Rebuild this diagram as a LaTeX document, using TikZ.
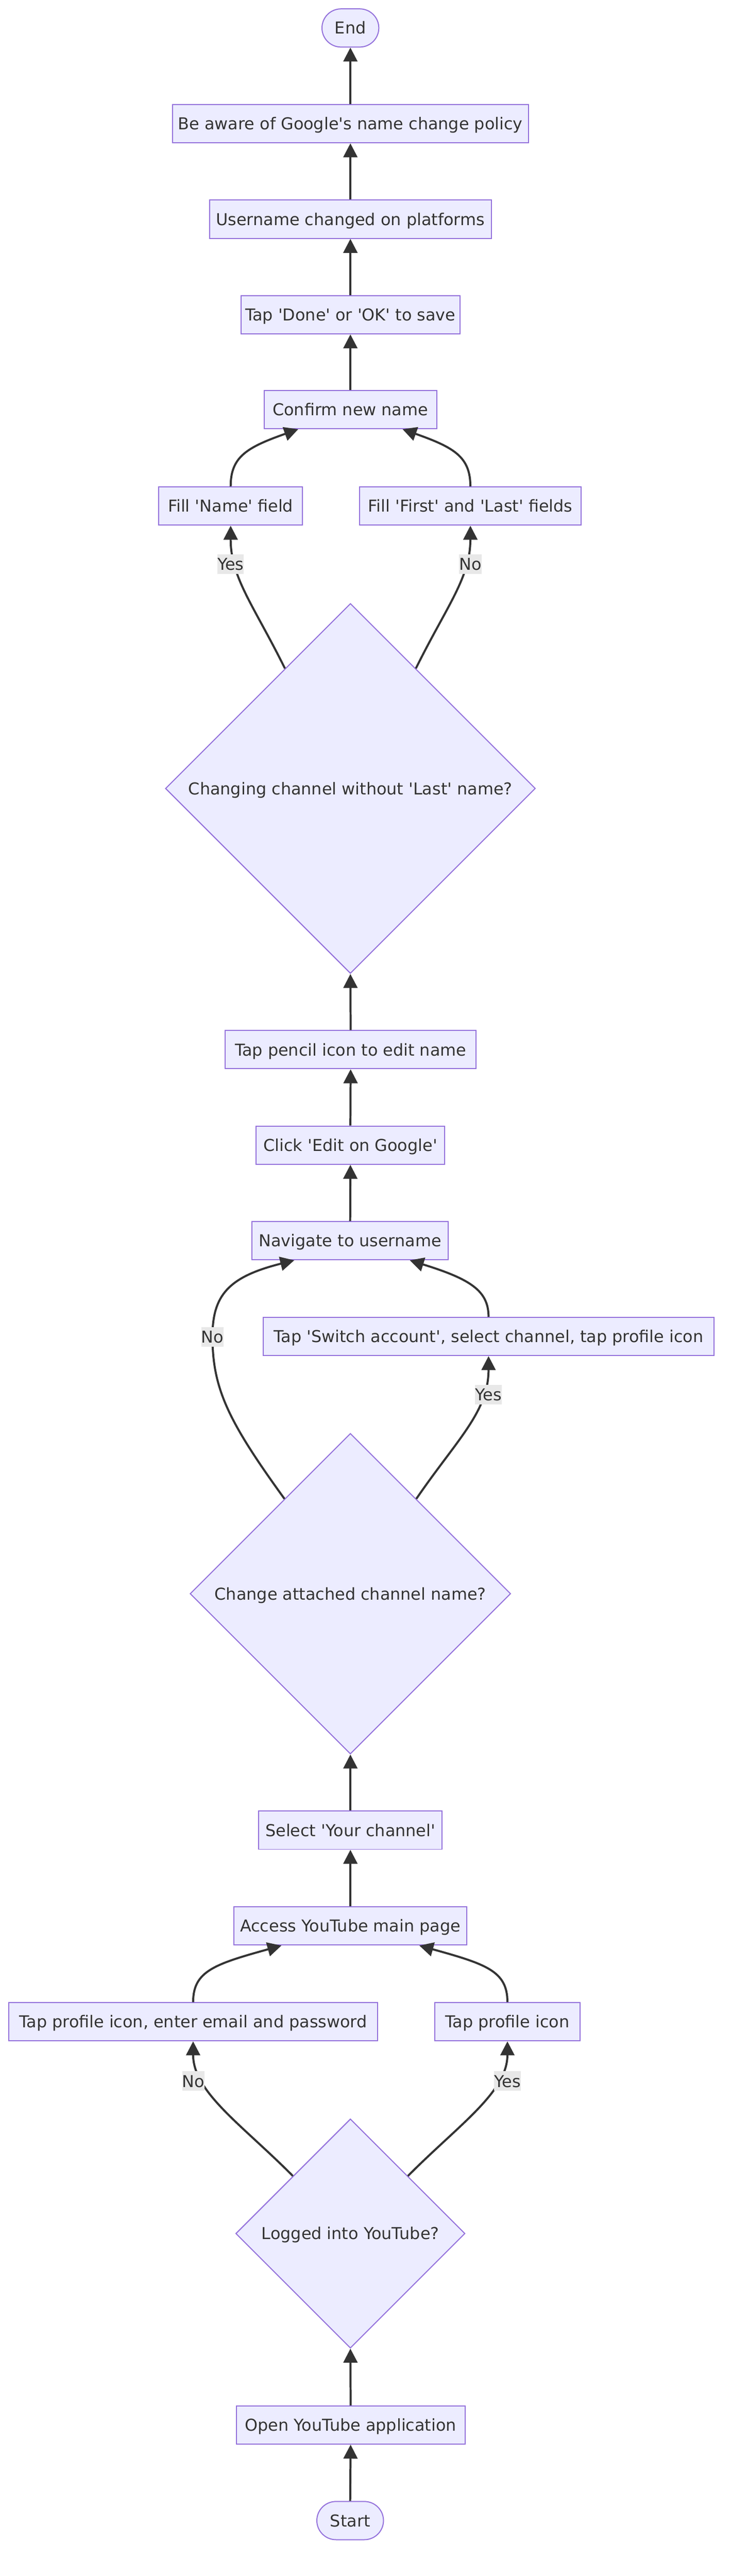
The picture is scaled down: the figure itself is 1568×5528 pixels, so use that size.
\documentclass[tikz,border=0pt]{standalone}
\usepackage{fontspec}
\setmainfont{DejaVu Sans}[Ligatures=TeXOff]
\usetikzlibrary{shapes.geometric,arrows.meta,calc}
\definecolor{boxfill}{HTML}{ECECFF}
\definecolor{boxborder}{HTML}{9370DB}
\definecolor{edgecol}{HTML}{333333}
\definecolor{textcol}{HTML}{333333}
\definecolor{lblfill}{HTML}{E8E8E8}
\tikzset{
  nbox/.style={draw=boxborder, fill=boxfill, line width=2.2pt, minimum height=82pt,
    inner sep=0pt, text height=25.7pt, text depth=0pt, text=textcol},
  termbox/.style={nbox, rounded corners=41pt},
  decbox/.style={diamond, aspect=1, draw=boxborder, fill=boxfill, line width=2.2pt,
    inner sep=0pt, text height=25.7pt, text depth=0pt, text=textcol},
  flow/.style={draw=edgecol, line width=4.4pt, -{Triangle[length=30pt,width=30pt]}},
  edgelabel/.style={fill=lblfill, inner xsep=0pt, inner ysep=0pt, minimum height=42pt,
    text height=25.7pt, text depth=0pt, text=textcol},
}
\begin{document}
\begin{tikzpicture}[x=1pt,y=-1pt,font=\fontsize{35.2}{42}\selectfont]
\useasboundingbox (0,0) rectangle (1568,5528);
\fill[white] (0,0) rectangle (1568,5528);

% nodes
\node[termbox, minimum width=122pt] (end) at (752,60) {End};
\node[nbox, minimum width=764pt] (aware) at (752,265.5) {Be aware of Google's name change policy};
\node[nbox, minimum width=605pt] (changed) at (752,470.5) {Username changed on platforms};
\node[nbox, minimum width=470pt] (done) at (752,675.5) {Tap 'Done' or 'OK' to save};
\node[nbox, minimum width=370pt] (confirm) at (752,879) {Confirm new name};
\node[nbox, minimum width=308pt] (fillname) at (495,1086) {Fill 'Name' field};
\node[nbox, minimum width=475pt] (fillfl) at (1009.5,1086) {Fill 'First' and 'Last' fields};
\node[decbox, minimum width=794pt, minimum height=794pt] (d1) at (752,1692) {Changing channel without 'Last' name?};
\node[nbox, minimum width=539pt] (pencil) at (752.5,2252.5) {Tap pencil icon to edit name};
\node[nbox, minimum width=404pt] (editg) at (752,2457.5) {Click 'Edit on Google'};
\node[nbox, minimum width=421pt] (navigate) at (751.5,2662.5) {Navigate to username};
\node[nbox, minimum width=967pt] (switch) at (1048.5,2868) {Tap 'Switch account', select channel, tap profile icon};
\node[decbox, minimum width=688pt, minimum height=688pt] (d2) at (752,3420) {Change attached channel name?};
\node[nbox, minimum width=394pt] (select) at (752,3927.5) {Select 'Your channel'};
\node[nbox, minimum width=500pt] (access) at (752,4133) {Access YouTube main page};
\node[nbox, minimum width=791pt] (loginbox) at (414.5,4338.5) {Tap profile icon, enter email and password};
\node[nbox, minimum width=312pt] (profile) at (1089,4338.5) {Tap profile icon};
\node[decbox, minimum width=492pt, minimum height=492pt] (d3) at (752,4793) {Logged into YouTube?};
\node[nbox, minimum width=491pt] (open) at (752.5,5204) {Open YouTube application};
\node[termbox, minimum width=143pt] (start) at (751.5,5409) {Start};

% edges
\draw[flow] (aware.north) -- (end.south);
\draw[flow] (changed.north) -- (aware.south);
\draw[flow] (done.north) -- (changed.south);
\draw[flow] (confirm.north) -- (done.south);
\draw[flow] (fillname.north) .. controls (495,980) and (530,960) .. ([xshift=-112pt]confirm.south);
\draw[flow] (fillfl.north) .. controls (1009.5,980) and (974,960) .. ([xshift=112pt]confirm.south);
\draw[flow] ($(d1.north)!0.353!(d1.west)$) .. controls (545,1300) and (495,1240) .. (fillname.south);
\draw[flow] ($(d1.north)!0.353!(d1.east)$) .. controls (959,1300) and (1009.5,1240) .. (fillfl.south);
\draw[flow] (pencil.north) -- (d1.south);
\draw[flow] (editg.north) -- (pencil.south);
\draw[flow] (navigate.north) -- (editg.south);
\draw[flow] ($(d2.north)!0.41!(d2.west)$) .. controls (490,3050) and (456,2980) .. (456,2868)
   .. controls (456,2780) and (490,2740) .. ([xshift=-120pt]navigate.south);
\draw[flow] ($(d2.north)!0.41!(d2.east)$) .. controls (980,3090) and (1048.5,3030) .. (switch.south);
\draw[flow] (switch.north) .. controls (1048.5,2770) and (1010,2745) .. ([xshift=128pt]navigate.south);
\draw[flow] (select.north) -- (d2.south);
\draw[flow] (access.north) -- (select.south);
\draw[flow] (loginbox.north) .. controls (414.5,4230) and (460,4215) .. ([xshift=-148pt]access.south);
\draw[flow] (profile.north) .. controls (1089,4230) and (1044,4215) .. ([xshift=148pt]access.south);
\draw[flow] ($(d3.north)!0.5!(d3.west)$) .. controls (520,4560) and (414.5,4490) .. (loginbox.south);
\draw[flow] ($(d3.north)!0.5!(d3.east)$) .. controls (984,4560) and (1089,4490) .. (profile.south);
\draw[flow] (open.north) -- (d3.south);
\draw[flow] (start.north) -- (open.south);

% edge labels
\node[edgelabel] (lyes1) at (495,1211) {Yes};
\node[edgelabel] (lno1) at (1009.5,1211) {No};
\node[edgelabel] (lno2) at (456,2869) {No};
\node[edgelabel] (lyes2) at (1048,2993) {Yes};
\node[edgelabel] (lno3) at (415,4466) {No};
\node[edgelabel] (lyes3) at (1089,4466) {Yes};
\end{tikzpicture}
\end{document}
